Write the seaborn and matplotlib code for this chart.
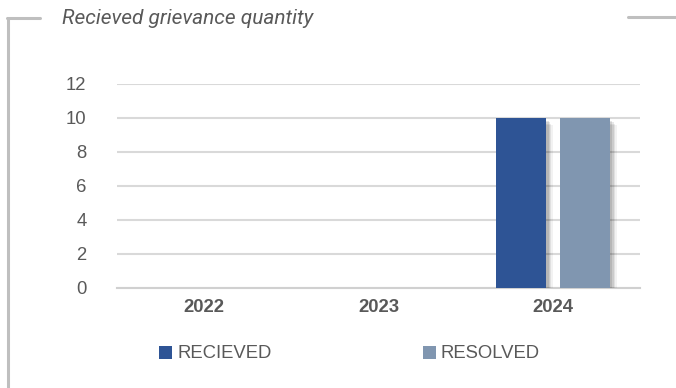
import matplotlib
matplotlib.use("Agg")
import matplotlib.pyplot as plt
import seaborn as sns
import pandas as pd
from matplotlib import patheffects as pe
from matplotlib.lines import Line2D
from matplotlib.patches import Patch

years = ["2022", "2023", "2024"]
received = [0, 0, 10]
resolved = [0, 0, 10]
series_names = ["RECIEVED", "RESOLVED"]
colors = ["#2E5495", "#8096B0"]
title = "Recieved grievance quantity"

df = pd.DataFrame({
    "year": years * 2,
    "value": received + resolved,
    "series": [series_names[0]] * 3 + [series_names[1]] * 3,
})

sns.set_style("white")
plt.rcParams["font.family"] = ["Liberation Sans", "DejaVu Sans"]

W, H = 676, 388
fig = plt.figure(figsize=(W / 100, H / 100), dpi=100)
ax = fig.add_axes([117 / W, 1 - 288 / H, (640 - 117) / W, (288 - 84) / H])

sns.barplot(data=df, x="year", y="value", hue="series", palette=colors,
            width=0.733, gap=0.22, ax=ax, legend=False, zorder=3,
            saturation=1, edgecolor="none", linewidth=0)

shadow = [pe.SimplePatchShadow(offset=(d, -d), shadow_rgbFace="#000000", alpha=a)
          for d, a in [(5, 0.05), (4, 0.07), (3, 0.09), (2, 0.1)]]
for p in ax.patches:
    if p.get_height() > 0:
        p.set_path_effects(shadow + [pe.Normal()])

ax.set_ylim(0, 12)
ax.set_yticks(range(0, 13, 2))
ax.set_xlim(-0.5, 2.5)
ax.grid(axis="y", color="#D9D9D9", linewidth=1.5, zorder=0)
ax.set_axisbelow(True)
for s in ["top", "right", "left"]:
    ax.spines[s].set_visible(False)
ax.spines["bottom"].set_color("#D0D0D0")
ax.spines["bottom"].set_linewidth(1.5)
ax.tick_params(axis="both", length=0, colors="#595959", labelsize=13.3)
ax.tick_params(axis="y", pad=22)
ax.tick_params(axis="x", pad=8)
for t in ax.get_xticklabels():
    t.set_fontweight("bold")
ax.set_xlabel("")
ax.set_ylabel("")

# Legend
handles = [Patch(facecolor=c, edgecolor="none") for c in colors]
fig.legend(handles, series_names, loc="center", bbox_to_anchor=(349.5 / W, 1 - 354 / H),
           ncol=2, frameon=False, fontsize=13.3, labelcolor="#595959",
           handlelength=0.7, handleheight=0.7, handletextpad=0.25, columnspacing=8.2)

# Title
fig.text(62 / W, 1 - 18 / H, title, fontsize=15, style="italic", color="#595959",
         ha="left", va="center", family=["Roboto", "Liberation Sans"])

# Decorative frame
gray = "#BFBFBF"
fig.add_artist(Line2D([8 / W, 8 / W], [1 - 18 / H, 0], color=gray, linewidth=2.2, transform=fig.transFigure))
fig.add_artist(Line2D([7 / W, 40 / W], [1 - 18 / H, 1 - 18 / H], color=gray, linewidth=2.2, transform=fig.transFigure))
fig.add_artist(Line2D([628 / W, 1], [1 - 17 / H, 1 - 17 / H], color=gray, linewidth=2.2, transform=fig.transFigure))

fig.savefig("out.png", dpi=100)
